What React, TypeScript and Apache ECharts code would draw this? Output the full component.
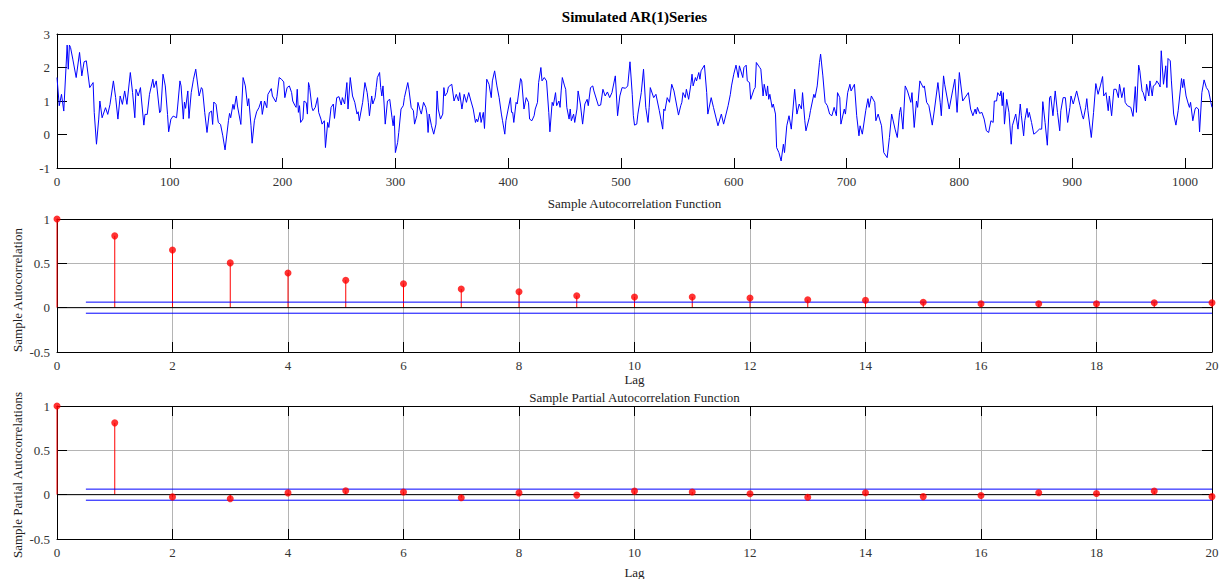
import React, { useEffect, useRef } from "react";
import * as echarts from "echarts";

const FONT = "'Liberation Serif', 'DejaVu Serif', serif";

// Simulated AR(1) series: [time index, value]
const arPoints: [number, number][] = [
  [0, 1.7], [2, 0.86], [4, 1.2], [6, 0.7], [9, 2.67], [10, 1.95], [11, 2.67], [12, 2.6], [14, 2.25], [17, 1.7],
  [20, 2.45], [22, 1.75], [24, 2.17], [26, 2.2], [29, 1.4], [32, 1.55], [33, 0.66], [35, -0.29], [37, 0.46], [38, 1.0],
  [40, 0.5], [43, 0.8], [45, 0.6], [47, 0.9], [50, 1.6], [52, 1.1], [54, 0.46], [56, 1.15], [58, 0.9], [60, 1.3],
  [62, 0.9], [65, 1.85], [67, 1.25], [69, 0.5], [70, 1.35], [72, 1.15], [74, 1.4], [75, 1.0], [77, 0.28], [78, 0.6],
  [80, 0.6], [82, 1.2], [85, 1.65], [86, 1.4], [88, 1.6], [91, 0.65], [92, 0.7], [94, 1.8], [96, 1.45], [98, 0.6],
  [99, 0.08], [101, 0.46], [103, 0.55], [106, 0.5], [107, 0.85], [109, 1.6], [110, 1.45], [112, 0.46], [113, 0.97], [114, 0.78],
  [116, 1.3], [117, 0.48], [119, 1.25], [121, 1.65], [123, 1.95], [126, 1.15], [128, 1.4], [129, 1.35], [131, 0.65], [133, 0.06],
  [135, 0.65], [137, 0.7], [138, 0.3], [139, 0.97], [141, 0.9], [143, 0.36], [145, 0.3], [147, -0.04], [149, -0.46], [152, 0.41],
  [153, 0.63], [154, 0.5], [156, 0.9], [157, 0.75], [159, 1.15], [160, 0.85], [163, 0.3], [165, 1.7], [167, 1.45], [169, 0.85],
  [170, 1.07], [172, 0.26], [173, -0.26], [175, 0.41], [177, 0.68], [179, 0.8], [181, 1.0], [182, 0.6], [184, 1.0], [186, 0.8],
  [187, 1.2], [190, 1.37], [191, 1.15], [194, 0.97], [195, 1.13], [197, 1.7], [199, 1.65], [201, 1.57], [202, 1.1], [204, 1.4],
  [206, 1.45], [208, 1.25], [209, 1.0], [211, 0.86], [212, 0.81], [213, 1.35], [214, 0.66], [215, 0.86], [216, 0.36], [218, 0.46],
  [219, 1.0], [221, 0.95], [222, 0.61], [223, 1.55], [224, 1.4], [226, 0.81], [227, 0.71], [229, 0.81], [231, 1.1], [232, 0.66],
  [234, 0.46], [235, 0.31], [237, 0.41], [238, -0.39], [240, 0.36], [241, 0.21], [243, 0.81], [245, 0.91], [246, 0.48], [248, 1.1],
  [250, 1.13], [252, 0.88], [253, 1.1], [255, 0.91], [257, 1.55], [258, 0.76], [260, 1.7], [262, 1.15], [264, 0.96], [266, 0.61],
  [267, 0.68], [268, 0.41], [271, 0.96], [273, 1.55], [275, 1.25], [276, 0.96], [277, 0.56], [279, 1.15], [280, 0.91], [282, 1.1],
  [283, 1.4], [284, 1.7], [286, 1.85], [287, 1.4], [288, 1.15], [289, 1.45], [290, 0.91], [291, 0.31], [293, 1.0], [295, 1.05],
  [297, 0.51], [298, 0.26], [299, 0.56], [300, -0.54], [302, -0.24], [303, 0.06], [305, 0.76], [307, 0.86], [308, 1.1], [311, 1.55],
  [312, 1.35], [314, 0.81], [316, 0.71], [317, 0.31], [319, 0.56], [320, 0.96], [322, 0.71], [323, 0.61], [325, 0.96], [327, 0.81],
  [328, 0.61], [329, 0.06], [330, 0.61], [332, 0.26], [334, 0.01], [336, 0.31], [337, 1.3], [338, 0.76], [340, 0.46], [342, 0.61],
  [343, 1.4], [344, 1.15], [346, 1.25], [347, 1.42], [350, 1.5], [352, 1.0], [354, 1.2], [356, 1.0], [357, 1.25], [359, 0.76],
  [361, 1.2], [363, 0.96], [365, 1.25], [367, 1.0], [369, 0.76], [371, 0.36], [372, 0.46], [373, 0.38], [375, 0.66], [376, 0.36],
  [378, 0.66], [379, 0.18], [381, 1.65], [383, 1.5], [385, 1.1], [386, 1.6], [388, 1.9], [390, 1.45], [392, 1.1], [394, 0.61],
  [395, 0.41], [397, 0.01], [398, 0.41], [400, 0.76], [402, 1.1], [403, 0.66], [404, 0.66], [405, 0.36], [407, 0.96], [408, 0.91],
  [411, 1.67], [412, 1.6], [414, 0.76], [416, 1.1], [418, 0.96], [419, 0.46], [421, 0.41], [423, 0.56], [424, 0.76], [426, 0.96],
  [427, 1.55], [429, 2.0], [430, 1.6], [432, 1.7], [434, 1.6], [436, 0.66], [437, 0.08], [439, 0.96], [440, 0.86], [442, 1.25],
  [443, 0.86], [445, 1.0], [446, 0.81], [447, 1.3], [448, 1.7], [450, 1.45], [451, 1.35], [452, 0.81], [454, 0.46], [455, 0.76],
  [456, 0.41], [458, 0.61], [459, 0.36], [461, 0.76], [462, 1.3], [464, 0.91], [466, 0.31], [468, 0.91], [470, 1.05], [471, 0.86],
  [473, 1.4], [475, 1.45], [476, 1.3], [480, 0.86], [482, 0.88], [484, 1.35], [486, 1.15], [488, 1.27], [490, 1.1], [492, 1.25],
  [495, 1.75], [497, 0.56], [499, 1.15], [501, 1.4], [504, 1.38], [506, 1.45], [508, 2.17], [510, 1.2], [511, 0.56], [512, 0.28],
  [514, 0.31], [515, 0.61], [518, 1.25], [520, 1.95], [522, 0.81], [524, 0.36], [525, 0.81], [526, 1.4], [529, 1.1], [531, 1.2],
  [534, 0.71], [537, 0.16], [538, 0.76], [539, 0.71], [541, 1.1], [543, 0.96], [545, 1.5], [547, 1.3], [551, 0.58], [553, 0.86],
  [554, 0.96], [555, 1.25], [557, 1.1], [558, 1.35], [560, 1.05], [562, 1.5], [563, 1.8], [564, 1.45], [566, 1.7], [567, 1.6],
  [569, 1.85], [570, 1.65], [571, 1.9], [574, 2.07], [576, 1.25], [577, 0.61], [580, 1.1], [582, 0.81], [586, 0.26], [589, 0.61],
  [591, 0.31], [595, 0.86], [597, 1.2], [598, 1.45], [600, 1.8], [602, 2.07], [604, 1.7], [605, 2.05], [608, 1.7], [609, 2.0],
  [611, 2.07], [612, 1.6], [614, 1.55], [615, 1.05], [618, 1.35], [619, 1.4], [620, 2.15], [623, 2.0], [624, 1.95], [626, 1.15],
  [627, 1.5], [629, 1.15], [630, 1.45], [631, 1.05], [632, 1.2], [634, 0.81], [635, 0.91], [637, 0.61], [638, -0.39], [640, -0.54],
  [642, -0.79], [644, -0.29], [645, -0.54], [647, 0.26], [649, 0.56], [651, 0.16], [654, 1.35], [656, 0.61], [658, 0.91], [660, 0.76],
  [661, 1.25], [663, 0.41], [664, 0.11], [667, 0.51], [668, 0.71], [671, 1.2], [672, 1.1], [674, 1.45], [676, 2.15], [677, 2.4],
  [679, 1.75], [681, 0.96], [683, 0.86], [685, 0.61], [687, 0.56], [689, 0.81], [691, 0.56], [692, 1.25], [694, 1.1], [695, 0.31],
  [698, 0.76], [699, 0.61], [701, 1.25], [703, 1.5], [704, 1.3], [707, 1.5], [709, 0.56], [711, -0.04], [712, 0.26], [714, 0.01],
  [717, 0.71], [719, 1.07], [720, 0.81], [722, 1.15], [725, 0.96], [726, 0.41], [728, 0.61], [731, 0.26], [733, -0.54], [736, -0.69],
  [738, -0.09], [740, 0.61], [741, 0.46], [743, 0.16], [745, -0.09], [747, 0.66], [748, 0.81], [750, 0.16], [752, 1.45], [754, 1.3],
  [757, 0.96], [758, 1.25], [760, 0.21], [762, 1.0], [763, 0.81], [765, 1.6], [768, 1.4], [769, 1.45], [771, 0.96], [773, 0.86],
  [776, 0.28], [778, 0.76], [781, 1.55], [783, 0.96], [784, 0.56], [786, 1.75], [787, 1.5], [791, 0.76], [794, 1.3], [796, 1.65],
  [798, 0.66], [800, 1.85], [803, 1.0], [808, 1.25], [810, 0.76], [812, 0.56], [814, 0.76], [815, 0.61], [816, 0.81], [818, 0.63],
  [820, 0.66], [822, 0.46], [824, 0.11], [826, 0.06], [828, 0.41], [830, 0.36], [831, 1.0], [833, 1.0], [834, 1.25], [836, 1.15],
  [837, 1.3], [838, 0.86], [839, 1.25], [840, 0.31], [842, 1.05], [844, 0.66], [846, -0.29], [847, 0.26], [850, 0.61], [852, 0.16],
  [854, 0.91], [855, 0.56], [857, -0.04], [858, 0.41], [860, 0.78], [861, 0.51], [862, 0.66], [864, 0.36], [866, 0.01], [868, 0.06],
  [871, 0.16], [873, 0.16], [874, 0.98], [876, 0.36], [878, -0.32], [880, 1.1], [881, 1.15], [883, 0.56], [885, 1.3], [887, 0.66],
  [889, 0.11], [890, 0.71], [892, 1.1], [894, 1.1], [896, 0.36], [898, 0.81], [899, 1.15], [901, 0.91], [904, 1.3], [907, 0.86],
  [909, 0.56], [910, 0.46], [912, 0.81], [913, 1.07], [914, 0.71], [917, -0.09], [919, 0.66], [921, 1.52], [923, 1.2], [925, 1.45],
  [927, 1.73], [928, 1.15], [930, 1.25], [932, 0.71], [933, 1.15], [935, 0.56], [937, 1.35], [939, 1.35], [941, 1.1], [942, 1.5],
  [944, 1.1], [946, 1.4], [947, 0.96], [949, 0.86], [952, 0.81], [954, 0.54], [956, 1.43], [957, 0.66], [959, 2.07], [960, 1.9],
  [962, 1.3], [963, 1.25], [965, 1.0], [966, 1.5], [968, 1.15], [969, 1.6], [971, 1.15], [972, 1.45], [974, 1.5], [975, 1.6],
  [977, 1.5], [978, 1.42], [979, 2.5], [981, 1.5], [983, 2.05], [984, 1.4], [985, 2.27], [987, 2.2], [988, 1.6], [990, 0.61],
  [992, 0.28], [994, 0.71], [997, 1.67], [998, 1.4], [999, 1.65], [1001, 1.15], [1003, 0.91], [1004, 0.81], [1005, 0.96], [1007, 0.41],
  [1009, 0.76], [1010, 0.81], [1012, 0.76], [1013, 0.08], [1015, 1.25], [1017, 1.63], [1019, 1.4], [1021, 1.3], [1023, 0.96], [1024, 0.81],
];

const lags = [0, 1, 2, 3, 4, 5, 6, 7, 8, 9, 10, 11, 12, 13, 14, 15, 16, 17, 18, 19, 20];
const acfValues = [1, 0.81, 0.65, 0.505, 0.39, 0.31, 0.27, 0.21, 0.18, 0.135, 0.12, 0.12, 0.11, 0.09, 0.084, 0.062, 0.044, 0.044, 0.044, 0.055, 0.055];
const pacfValues = [1, 0.81, -0.025, -0.045, 0.02, 0.045, 0.03, -0.035, 0.02, -0.005, 0.04, 0.03, 0.01, -0.03, 0.022, -0.022, -0.01, 0.022, 0.013, 0.04, -0.022];
const confBound = 0.0625;
const boundStart = 0.5;

const titleMain = "Simulated AR(1)Series";
const titleAcf = "Sample Autocorrelation Function";
const titlePacf = "Sample Partial Autocorrelation Function";
const yNameAcf = "Sample Autocorrelation";
const yNamePacf = "Sample Partial Autocorrelations";
const xNameLag = "Lag";

const labelStyle = { fontFamily: FONT, fontSize: 13, color: "#333" };
const plainNum = (v: number) => String(v);

function axisCommon() {
  return {
    axisLine: { show: true, onZero: false, lineStyle: { color: "#000", width: 1 } },
    axisTick: { show: true, inside: true, length: 10, lineStyle: { color: "#000", width: 1 } },
  };
}

function xPair(gridIndex: number, min: number, max: number, interval: number, split: boolean, showMax: boolean) {
  return [
    {
      type: "value", gridIndex, min, max, interval, position: "bottom",
      ...axisCommon(),
      axisLabel: { ...labelStyle, margin: 7, formatter: plainNum, showMaxLabel: showMax },
      splitLine: { show: split, lineStyle: { color: "#b4b4b4", width: 1 } },
    },
    {
      type: "value", gridIndex, min, max, interval, position: "top",
      ...axisCommon(),
      axisLabel: { show: false },
      splitLine: { show: false },
    },
  ];
}

function yPair(gridIndex: number, min: number, max: number, interval: number, split: boolean) {
  return [
    {
      type: "value", gridIndex, min, max, interval, position: "left",
      ...axisCommon(),
      axisLabel: { ...labelStyle, margin: 7, formatter: plainNum },
      splitLine: { show: split, lineStyle: { color: "#b4b4b4", width: 1 } },
    },
    {
      type: "value", gridIndex, min, max, interval, position: "right",
      ...axisCommon(),
      axisLabel: { show: false },
      splitLine: { show: false },
    },
  ];
}

function stemSeries(values: number[], axisIndex: number) {
  const data = lags.map((l, i) => [l, values[i]]);
  return [
    {
      type: "custom", xAxisIndex: axisIndex, yAxisIndex: axisIndex, z: 3,
      data,
      renderItem: (_p: any, api: any) => {
        const a = api.coord([api.value(0), 0]);
        const b = api.coord([api.value(0), api.value(1)]);
        return {
          type: "line",
          shape: { x1: a[0], y1: a[1], x2: b[0], y2: b[1] },
          style: { stroke: "#ff0000", lineWidth: 1 },
        };
      },
    },
    {
      type: "line", xAxisIndex: axisIndex, yAxisIndex: axisIndex, z: 4,
      data: [[0, 0], [20, 0]], symbol: "none",
      lineStyle: { color: "#000", width: 1 },
    },
    {
      type: "line", xAxisIndex: axisIndex, yAxisIndex: axisIndex, z: 4,
      data: [[boundStart, confBound], [20, confBound]], symbol: "none",
      lineStyle: { color: "#0000ff", width: 1 },
    },
    {
      type: "line", xAxisIndex: axisIndex, yAxisIndex: axisIndex, z: 4,
      data: [[boundStart, -confBound], [20, -confBound]], symbol: "none",
      lineStyle: { color: "#0000ff", width: 1 },
    },
    {
      type: "scatter", xAxisIndex: axisIndex, yAxisIndex: axisIndex, z: 6,
      data, symbol: "circle", symbolSize: 7,
      itemStyle: { color: "#ff0000" },
    },
  ];
}

export default function App() {
  const ref = useRef<HTMLDivElement>(null);
  useEffect(() => {
    if (!ref.current) return;
    const chart = echarts.init(ref.current, undefined, { renderer: "svg" });
    const g = [
      { left: 57, top: 34, width: 1155, height: 134 },
      { left: 57, top: 219, width: 1155, height: 133 },
      { left: 57, top: 406, width: 1155, height: 133 },
    ];
    const xAxes = [
      ...xPair(0, 0, 1024, 100, false, false),
      ...xPair(1, 0, 20, 2, true, true),
      ...xPair(2, 0, 20, 2, true, true),
    ];
    const yAxes = [
      ...yPair(0, -1, 3, 1, false),
      ...yPair(1, -0.5, 1, 0.5, true),
      ...yPair(2, -0.5, 1, 0.5, true),
    ];
    const cx = 57 + 1155 / 2;
    const txt = (text: string, x: number, y: number, size: number, bold = false, rot = 0) => ({
      type: "text", x, y, rotation: rot,
      style: { text, fontFamily: FONT, fontSize: size, fontWeight: bold ? "bold" : "normal", fill: bold ? "#000" : "#222", align: "center", verticalAlign: "middle" },
    });
    chart.setOption({
      animation: false,
      backgroundColor: "#fff",
      grid: g,
      xAxis: xAxes,
      yAxis: yAxes,
      graphic: [
        txt(titleMain, cx, 17, 15, true),
        txt(titleAcf, cx, 203, 13),
        txt(titlePacf, cx, 397, 13),
        txt(xNameLag, cx, 379, 13),
        txt(xNameLag, cx, 572, 13),
        txt(yNameAcf, 17, 290, 13, false, Math.PI / 2),
        txt(yNamePacf, 17, 475, 13, false, Math.PI / 2),
      ],
      series: [
        {
          type: "line", xAxisIndex: 0, yAxisIndex: 0, data: arPoints, symbol: "none",
          lineStyle: { color: "#0000ff", width: 1 }, z: 3,
        },
        ...stemSeries(acfValues, 2),
        ...stemSeries(pacfValues, 4),
      ],
    });
    return () => chart.dispose();
  }, []);
  return (
    <div
      ref={ref}
      style={{ position: "absolute", left: 0, top: 0, width: 1222, height: 579, background: "#fff" }}
    />
  );
}
